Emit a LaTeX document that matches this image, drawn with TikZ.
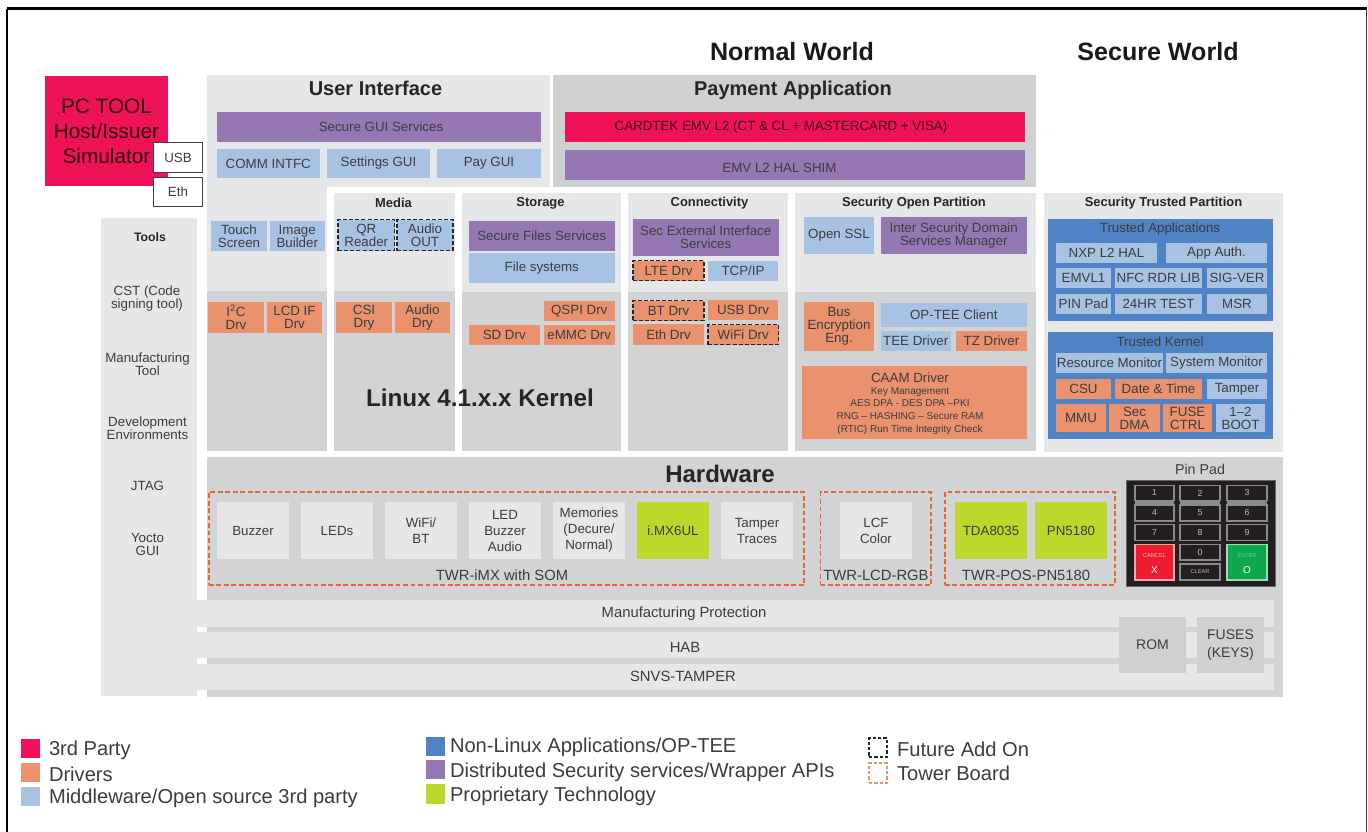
\documentclass[tikz,border=0pt]{standalone}
\usepackage{fontspec}
\setmainfont{Liberation Sans}
\definecolor{txt}{HTML}{3C3C3E}
\definecolor{cLight}{HTML}{E6E7E8}
\definecolor{cDark}{HTML}{D1D3D4}
\definecolor{cPay}{HTML}{CFD0D1}
\definecolor{cPur}{HTML}{9578B3}
\definecolor{cMid}{HTML}{A8C2E3}
\definecolor{cOra}{HTML}{E9926D}
\definecolor{cCrim}{HTML}{EE1358}
\definecolor{cGrn}{HTML}{BDD72A}
\definecolor{cBlue}{HTML}{5083C5}
\definecolor{cDash}{HTML}{E3682F}
\definecolor{cPad}{HTML}{231F20}
\definecolor{cKey}{HTML}{8A8A8A}
\definecolor{cRedK}{HTML}{ED1C2E}
\definecolor{cGrnK}{HTML}{0FA650}
\tikzset{
  base/.style={inner sep=0pt,outer sep=0pt,align=center,text=txt,font=\fontsize{10}{9.75}\selectfont},
  light/.style={base,fill=cLight},
  darkb/.style={base,fill=cDark},
  payb/.style={base,fill=cPay},
  purb/.style={base,fill=cPur},
  midb/.style={base,fill=cMid},
  orab/.style={base,fill=cOra},
  crimb/.style={base,fill=cCrim},
  grnb/.style={base,fill=cGrn},
  blueb/.style={base,fill=cBlue},
  hwb/.style={base,fill=cLight},
  futb/.style={draw=black!85,dash pattern=on 3pt off 1.6pt,line width=1.1pt},
  towb/.style={base,draw=cDash,dash pattern=on 3.6pt off 2pt,line width=1.1pt},
  port/.style={base,fill=white,draw=black!75,line width=1.1pt},
  keyb/.style={base,fill=cPad,draw=cKey,line width=0.9pt,text=white!75!black,font=\fontsize{6.5}{7}\selectfont},
  label/.style={inner sep=0pt,outer sep=0pt,align=center,text=txt,font=\fontsize{10}{9.75}\selectfont},
  big/.style={label,font=\fontsize{11.1}{12}\selectfont},
  head/.style={label,text=black!85,font=\bfseries\fontsize{9.7}{10}\selectfont},
  leg/.style={inner sep=0pt,outer sep=0pt,anchor=west,text=txt,font=\fontsize{15.1}{16}\selectfont},
}
\newcommand\bx[8][]{%
  \pgfmathsetmacro\cx{(#4+#6)/2}\pgfmathsetmacro\cy{(#5+#7)/2}%
  \pgfmathsetmacro\ww{(#6-#4)*0.75}\pgfmathsetmacro\hh{(#7-#5)*0.75}%
  \node[#2,minimum width=\ww pt,minimum height=\hh pt,#1] (#3) at (\cx,\cy) {#8};}
\newcommand\tx[5][label]{\node[#1] (#2) at (#3,#4) {#5};}
\begin{document}
\begin{tikzpicture}[x=0.75pt,y=-0.75pt]
\useasboundingbox (0,0) rectangle (1368,832);
% frame
\coordinate (fa) at (6.8,832);
\coordinate (fb) at (6.8,8.5);
\coordinate (fc) at (1366.5,8.5);
\coordinate (fd) at (1366.5,832);
\draw[line width=1.4pt,black] (fa) -- (fb);
\draw[line width=2.2pt,black] (fb) -- (fc);
\draw[line width=1pt,black!80] (fc) -- (fd);
% worlds
\tx[head,font=\bfseries\fontsize{18.8}{20}\selectfont,text=black!90]{nw}{792}{52}{Normal World}
\tx[head,font=\bfseries\fontsize{18.8}{20}\selectfont,text=black!90]{sw}{1158}{52}{Secure World}
% PC tool
\bx[font=\fontsize{15.6}{18.7}\selectfont,text=black!80!cCrim,yshift=0.75pt]{crimb}{pc}{45}{77}{168}{187}{PC TOOL\\Host/Issuer\\Simulator}
\bx{port}{usb}{153.5}{142.5}{202.5}{172.5}{USB}
\bx{port}{eth}{153.5}{177.5}{202.5}{206.5}{Eth}
% group backgrounds
\bx{light}{tools}{101}{218}{197}{696}{}
\bx{light}{uia}{207}{75}{550}{187}{}
\bx{light}{uib}{207}{187}{327}{291}{}
\bx{darkb}{uic}{207}{291}{327}{451}{}
\bx{payb}{pay}{552.5}{75}{1036}{187}{}
\bx{light}{media}{334}{192.5}{455}{291}{}
\bx{darkb}{mediab}{334}{291}{455}{451}{}
\bx{light}{stor}{462}{192.5}{621}{292}{}
\bx{darkb}{storb}{462}{292}{621}{451}{}
\bx{light}{conn}{628}{192.5}{788}{292}{}
\bx{darkb}{connb}{628}{292}{788}{451}{}
\bx{light}{sop}{794.5}{192.5}{1036}{292}{}
\bx{darkb}{sopb}{794.5}{292}{1036}{451}{}
\bx{light}{stp}{1044}{193}{1283}{452}{}
\bx{darkb}{hw}{207}{457}{1283}{697}{}
% low bars
\bx{light}{bar1}{197}{600}{1274}{627}{}
\bx{light}{bar2}{197}{632}{1274}{658}{}
\bx{light}{bar3}{197}{664}{1274}{690}{}
% tools text
\tx[head,font=\bfseries\fontsize{9.2}{10}\selectfont]{t1}{150}{237}{Tools}
\tx{t2}{147}{299}{CST (Code\\signing tool)}
\tx{t3}{147.5}{364}{Manufacturing\\Tool}
\tx{t4}{147.5}{428}{Development\\Environments}
\tx{t5}{147.5}{486}{JTAG}
\tx{t6}{147.5}{544}{Yocto\\GUI}
% User interface
\tx[head,font=\bfseries\fontsize{15}{16}\selectfont]{uih}{375.5}{88}{User Interface}
\bx{purb}{sgui}{216.5}{112}{541}{142}{}
\tx{sguit}{381}{126.5}{Secure GUI Services}
\bx{midb}{comm}{216.5}{149}{320}{178}{COMM INTFC}
\bx{midb}{sett}{327}{149}{430}{178}{Settings GUI}
\bx{midb}{paygui}{437}{149}{541}{178}{Pay GUI}
\bx{midb}{touch}{211}{221}{267}{251}{Touch\\Screen}
\bx{midb}{image}{269.5}{221}{325}{251}{Image\\Builder}
\bx{orab}{i2c}{208}{302}{264}{333}{I\textsuperscript{2}C\\Drv}
\bx{orab}{lcd}{267}{302}{322}{333}{LCD IF\\Drv}
% Payment
\tx[head,font=\bfseries\fontsize{15}{16}\selectfont]{payh}{793}{90}{Payment Application}
\bx{crimb}{card}{564.5}{112}{1025}{142}{}
\tx[label,text=black!70!cCrim]{cardt}{781}{127.5}{CARDTEK EMV L2 (CT \& CL + MASTERCARD + VISA)}
\bx{purb}{shim}{564.5}{150}{1025}{180}{}
\tx{shimt}{779.5}{167.5}{EMV L2 HAL SHIM}
% Media
\tx[head]{medh}{393.5}{203}{Media}
\bx[futb]{midb}{qr}{338}{219.5}{394.5}{250.5}{QR\\Reader}
\bx[futb]{midb}{aout}{397}{219.5}{453}{250.5}{Audio\\OUT}
\bx{orab}{csi}{336}{302}{392}{333}{CSI\\Dry}
\bx{orab}{adry}{395}{302}{450}{333}{Audio\\Dry}
% Storage
\tx[head]{sth}{540.5}{203}{Storage}
\bx{purb}{sfs}{468.5}{221}{615}{251}{Secure Files Services}
\bx{midb}{fsys}{468.5}{253}{615}{283}{File systems}
\bx{orab}{qspi}{544}{301}{614.5}{321}{QSPI Drv}
\bx{orab}{sd}{469}{325}{539.5}{345}{SD Drv}
\bx{orab}{emmc}{544}{325}{614.5}{345}{eMMC Drv}
% Connectivity
\tx[head]{coh}{709.5}{203}{Connectivity}
\bx{purb}{sec}{632.5}{219}{779}{256}{Sec External Interface\\Services}
\bx[futb]{orab}{lte}{633}{260.5}{704}{280.5}{LTE Drv}
\bx{midb}{tcp}{708}{261}{778}{281}{TCP/IP}
\bx[futb]{orab}{bt}{633}{300.5}{704}{320.5}{BT Drv}
\bx{orab}{usbd}{708}{300}{778}{320}{USB Drv}
\bx{orab}{ethd}{633}{324}{704}{345}{Eth Drv}
\bx[futb]{orab}{wifi}{708}{324.5}{778.5}{344.5}{WiFi Drv}
% Security Open
\tx[head]{soh}{914}{203}{Security Open Partition}
\bx{midb}{ssl}{804}{217}{874}{254}{Open SSL}
\bx{purb}{inter}{880.5}{217}{1027}{254}{Inter Security Domain\\Services Manager}
\bx{orab}{bus}{804}{302}{874}{351}{Bus\\Encryption\\Eng.}
\bx{midb}{optee}{880.5}{303}{1027}{327}{OP-TEE Client}
\bx{midb}{teed}{880.5}{331}{951}{351}{TEE Driver}
\bx{orab}{tzd}{956}{331}{1027}{351}{TZ Driver}
\bx{orab}{caam}{802}{366}{1027}{439}{}
\tx{cm1}{910}{378}{CAAM Driver}
\tx[label,font=\fontsize{7.5}{9.7}\selectfont]{cm2}{910}{411}{Key Management\\AES DPA - DES DPA --PKI\\RNG -- HASHING -- Secure RAM\\(RTIC) Run Time Integrity Check}
% Security Trusted
\tx[head]{sth2}{1163.5}{203}{Security Trusted Partition}
\bx{blueb}{tapp}{1048}{219}{1273}{321}{}
\tx{tappt}{1160}{229.5}{Trusted Applications}
\bx{midb}{nxp}{1056}{243}{1157}{263}{NXP L2 HAL}
\bx{midb}{appa}{1166}{243}{1267}{263}{App Auth.}
\bx{midb}{emvl}{1056}{268}{1111}{288}{EMVL1}
\bx{midb}{nfc}{1115}{268}{1202}{288}{NFC RDR LIB}
\bx{midb}{sigv}{1207}{268}{1267}{288}{SIG-VER}
\bx{midb}{pinp}{1056}{294}{1111}{314}{PIN Pad}
\bx{midb}{hr24}{1115}{294}{1202}{314}{24HR TEST}
\bx{midb}{msr}{1207}{294}{1267}{314}{MSR}
\bx{blueb}{tker}{1048}{332}{1273}{439}{}
\tx{tkert}{1160}{341.5}{Trusted Kernel}
\bx{midb}{resm}{1056}{353}{1163}{373}{Resource Monitor}
\bx{midb}{sysm}{1166}{353}{1267}{373}{System Monitor}
\bx{orab}{csu}{1056}{379}{1111}{399}{CSU}
\bx{orab}{date}{1115}{379}{1202}{399}{Date \& Time}
\bx{midb}{tamp}{1207}{379}{1267}{399}{Tamper}
\bx{orab}{mmu}{1056}{404}{1106}{432}{MMU}
\bx{orab}{sdma}{1109}{404}{1160}{432}{Sec\\DMA}
\bx{orab}{fuse}{1163}{404}{1212}{432}{FUSE\\CTRL}
\bx{midb}{boot}{1216}{404}{1265}{432}{1--2\\BOOT}
% Linux
\tx[head,font=\bfseries\fontsize{18.2}{19}\selectfont]{linux}{480}{398}{Linux 4.1.x.x Kernel}
% Hardware
\tx[head,font=\bfseries\fontsize{18}{18}\selectfont]{hwh}{720}{474}{Hardware}
\bx{towb}{twa}{209}{492}{804}{585}{}
\bx{towb}{twb}{820.5}{492}{931}{585}{}
\bx{towb}{twc}{945}{492}{1115}{585}{}
\bx{hwb}{buzz}{217}{502}{289}{559}{Buzzer}
\bx{hwb}{leds}{301}{502}{373}{559}{LEDs}
\bx[font=\fontsize{10}{12}\selectfont]{hwb}{wfbt}{385}{502}{457}{559}{WiFi/\\BT}
\bx[font=\fontsize{10}{12}\selectfont]{hwb}{ledb}{469}{502}{541}{559}{LED\\Buzzer\\Audio}
\bx[font=\fontsize{10}{12}\selectfont]{hwb}{memo}{553}{502}{625}{559}{Memories\\(Decure/\\Normal)}
\bx{grnb}{imx}{637}{502}{709}{559}{i.MX6UL}
\bx[font=\fontsize{10}{12}\selectfont]{hwb}{ttrc}{721}{502}{793}{559}{Tamper\\Traces}
\bx[font=\fontsize{10}{12}\selectfont]{hwb}{lcf}{840}{502}{912}{559}{LCF\\Color}
\bx{grnb}{tda}{955}{502}{1027}{559}{TDA8035}
\bx{grnb}{pn}{1035}{502}{1107}{559}{PN5180}
\tx[big]{twat}{502}{575}{TWR-iMX with SOM}
\tx[big]{twbt}{876}{575}{TWR-LCD-RGB}
\tx[big]{twct}{1026}{575}{TWR-POS-PN5180}
% bars text
\tx[big]{mpt}{684}{614}{Manufacturing Protection}
\tx[big]{habt}{685}{647}{HAB}
\tx[big]{snvt}{683}{676}{SNVS-TAMPER}
\bx[font=\fontsize{10.5}{14}\selectfont]{payb}{rom}{1119}{617}{1186}{673}{ROM}
\bx[font=\fontsize{10.5}{14}\selectfont]{payb}{fus}{1197}{617}{1264}{673}{FUSES\\(KEYS)}
% Pin pad
\tx[label,font=\fontsize{10.7}{12}\selectfont]{pint}{1200}{469}{Pin Pad}
\bx[draw=black!60,line width=0.6pt,fill=cPad]{base}{pad}{1126}{480}{1275}{586}{}
\bx{base,fill=cKey}{bnd1}{1135}{500}{1174}{505}{}
\bx{base,fill=cKey}{bnd2}{1180}{500}{1220}{505}{}
\bx{base,fill=cKey}{bnd3}{1227}{500}{1267}{505}{}
\bx{keyb}{k1}{1135}{485.5}{1174}{500.5}{1}
\bx{keyb}{k2}{1180}{485.5}{1220}{500.5}{2}
\bx{keyb}{k3}{1227}{485.5}{1267}{500.5}{3}
\bx{keyb}{k4}{1135}{505}{1174}{521}{4}
\bx{keyb}{k5}{1180}{505}{1220}{521}{5}
\bx{keyb}{k6}{1227}{505}{1267}{521}{6}
\bx{keyb}{k7}{1135}{524.5}{1174}{540.5}{7}
\bx{keyb}{k8}{1180}{524.5}{1220}{540.5}{8}
\bx{keyb}{k9}{1227}{524.5}{1267}{540.5}{9}
\bx{keyb}{k0}{1180}{544.5}{1220}{560}{0}
\bx[font=\fontsize{4.2}{6}\selectfont]{keyb}{kcl}{1180}{564}{1220}{580}{CLEAR}
\bx[fill=cRedK,draw=white!60!cRedK,text=white]{keyb}{kx}{1135}{544.5}{1174}{580}{}
\bx[fill=cGrnK,draw=white!60!cGrnK,text=white]{keyb}{ko}{1227}{544.5}{1267}{580}{}
\tx[label,text=white!70!cRedK,font=\fontsize{4.2}{5}\selectfont]{kxa}{1154.5}{556}{CANCEL}
\tx[label,text=white,font=\fontsize{7.5}{8}\selectfont]{kxb}{1154.5}{570}{X}
\tx[label,text=white!40!cGrnK,font=\fontsize{4.2}{5}\selectfont]{koa}{1247}{556}{ENTER}
\tx[label,text=white,font=\fontsize{7.5}{8}\selectfont]{kob}{1247}{570}{O}
% Legend
\bx{crimb}{l1}{21}{739}{40}{758}{}
\bx{orab}{l2}{21}{763}{40}{782}{}
\bx{midb}{l3}{21}{787}{40}{806}{}
\bx{blueb}{l4}{426}{737}{445}{756}{}
\bx{purb}{l5}{426}{760}{445}{779}{}
\bx{grnb}{l6}{426}{784}{445}{804}{}
\bx[draw=black!85,dash pattern=on 2.4pt off 1.6pt,line width=1pt]{base}{l7}{869}{738}{887}{757}{}
\bx[draw=cOra,dash pattern=on 2.4pt off 1.6pt,line width=1pt]{base}{l8}{869}{763}{887}{783}{}
\tx[leg]{lt1}{49}{750}{3rd Party}
\tx[leg]{lt2}{49}{774}{Drivers}
\tx[leg]{lt3}{49}{798}{Middleware/Open source 3rd party}
\tx[leg]{lt4}{450}{747.5}{Non-Linux Applications/OP-TEE}
\tx[leg]{lt5}{450}{772.5}{Distributed Security services/Wrapper APIs}
\tx[leg]{lt6}{450}{796.5}{Proprietary Technology}
\tx[leg]{lt7}{897}{749.5}{Future Add On}
\tx[leg]{lt8}{897}{773.5}{Tower Board}
\end{tikzpicture}
\end{document}
